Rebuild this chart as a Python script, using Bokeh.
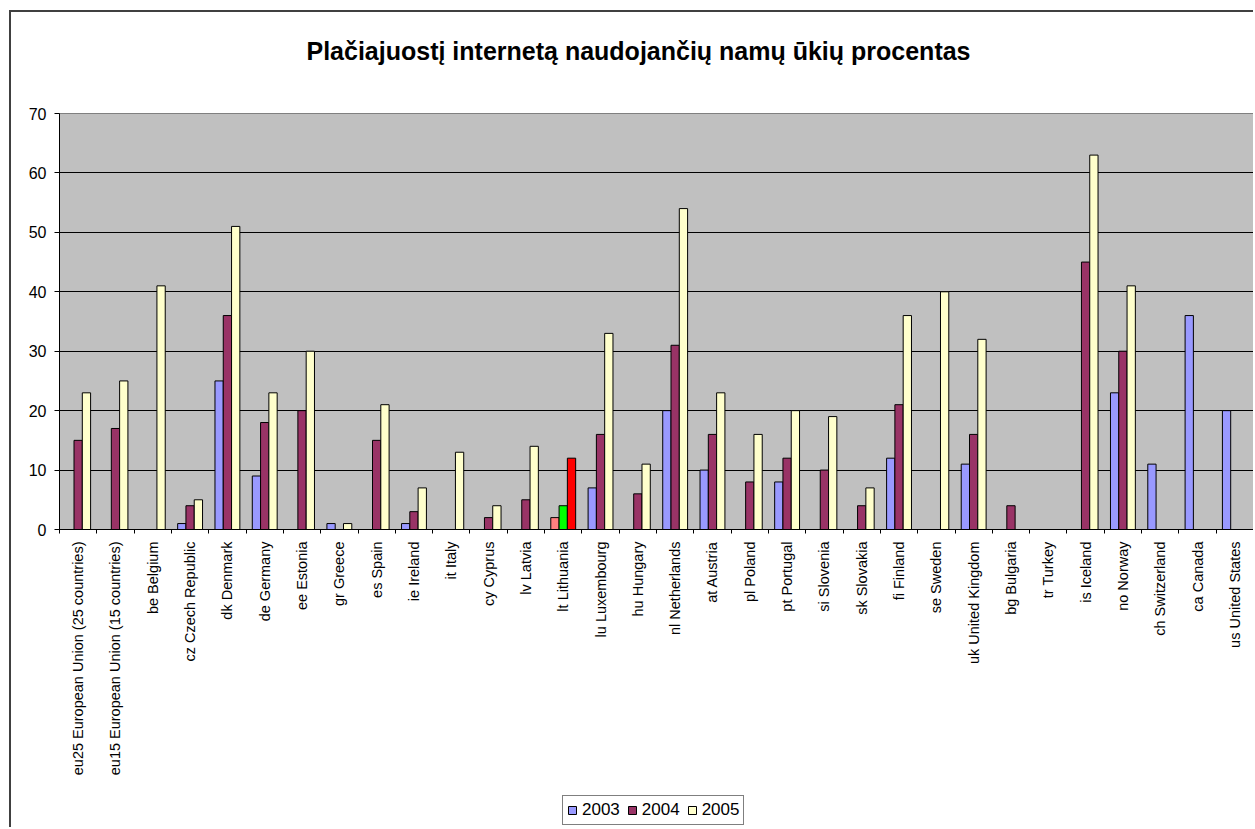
import numpy as np
from bokeh.plotting import figure
from bokeh.layouts import column
from bokeh.models import ColumnDataSource, FixedTicker, Legend, LegendItem, Label
from bokeh.transform import dodge
from bokeh.embed import file_html
from bokeh.resources import INLINE

# ---------------- data ----------------
title_text = "Plačiajuostį internetą naudojančių namų ūkių procentas"
countries = [
    "eu25 European Union (25 countries)", "eu15 European Union (15 countries)",
    "be Belgium", "cz Czech Republic", "dk Denmark", "de Germany", "ee Estonia",
    "gr Greece", "es Spain", "ie Ireland", "it Italy", "cy Cyprus", "lv Latvia",
    "lt Lithuania", "lu Luxembourg", "hu Hungary", "nl Netherlands", "at Austria",
    "pl Poland", "pt Portugal", "si Slovenia", "sk Slovakia", "fi Finland",
    "se Sweden", "uk United Kingdom", "bg Bulgaria", "tr Turkey", "is Iceland",
    "no Norway", "ch Switzerland", "ca Canada", "us United States",
]
y2003 = [None, None, None, 1, 25, 9, None, 1, None, 1, None, None, None, 2, 7, None,
         20, 10, None, 8, None, None, 12, None, 11, None, None, None, 23, 11, 36, 20]
y2004 = [15, 17, None, 4, 36, 18, 20, None, 15, 3, None, 2, 5, 4, 16, 6,
         31, 16, 8, 12, 10, 4, 21, None, 16, 4, None, 45, 30, None, None, None]
y2005 = [23, 25, 41, 5, 51, 23, 30, 1, 21, 7, 13, 4, 14, 12, 33, 11,
         54, 23, 16, 20, 19, 7, 36, 40, 32, None, None, 63, 41, None, None, None]
years = ["2003", "2004", "2005"]
y_ticks = [0, 10, 20, 30, 40, 50, 60, 70]

# ---------------- styles ----------------
FONT = "Liberation Sans"
BORDER = "2px solid #404040"
series_colors = ["#9999FF", "#993366", "#FFFFCC"]
highlight = {"lt Lithuania": ["#FF8080", "#00FF00", "#FF0000"]}
bar_w = 1.0 / 4.5  # Excel gap width 150 %
offsets = [-bar_w, 0.0, bar_w]
W = 1244
n = len(countries)
# frames of the stacked figures are aligned; strip ranges are in page pixels
FRAME_X = (59, 1253)


def strip(height, top_border=False, y0=0):
    f = figure(width=W, height=height, x_range=FRAME_X, y_range=(y0, y0 + height),
               x_axis_location=None, y_axis_location=None,
               output_backend="svg", toolbar_location=None, min_border=0)
    f.grid.grid_line_color = None
    f.outline_line_color = None
    f.background_fill_color = "white"
    f.border_fill_color = "white"
    f.title.visible = False
    if top_border:
        f.margin = (10, 0, 0, 9)
        f.styles = {"border-top": BORDER, "border-left": BORDER}
    else:
        f.margin = (0, 0, 0, 9)
        f.styles = {"border-left": BORDER}
    return f


# ---------------- title strip ----------------
tf = strip(83, top_border=True)
tf.add_layout(Label(x=638, y=45, text=title_text, text_align="center",
                    text_baseline="middle", text_font=FONT, text_font_size="25px",
                    text_font_style="bold", text_color="black"))

# ---------------- main chart ----------------
p = figure(
    width=W, height=700,
    x_range=(0, n), y_range=(0, 70),
    output_backend="svg", toolbar_location=None,
    min_border_left=48, min_border_right=2, min_border_top=20, min_border_bottom=264,
)
p.margin = (0, 0, 0, 9)
p.styles = {"border-left": BORDER}
p.title.visible = False
p.background_fill_color = "#C0C0C0"
p.border_fill_color = "white"
p.outline_line_color = "#808080"
p.outline_line_width = 1

sources = []
for k, vals in enumerate([y2003, y2004, y2005]):
    xs, tops, cols = [], [], []
    for i, v in enumerate(vals):
        if v is None:
            continue
        xs.append(i + 0.5)
        tops.append(v)
        cols.append(highlight.get(countries[i], series_colors)[k])
    src = ColumnDataSource(dict(x=xs, top=tops, color=cols))
    sources.append(src)
    p.vbar(x=dodge("x", offsets[k]), top="top", bottom=0, width=bar_w,
           source=src, fill_color="color", line_color="black", line_width=1)

p.yaxis.ticker = FixedTicker(ticks=y_ticks)
p.yaxis.axis_line_color = "black"
p.yaxis.major_tick_line_color = "black"
p.yaxis.major_tick_out = 5
p.yaxis.major_tick_in = 0
p.yaxis.minor_tick_line_color = None
p.yaxis.major_label_text_font = FONT
p.yaxis.major_label_text_font_size = "16px"
p.yaxis.major_label_text_color = "black"
p.yaxis.major_label_standoff = 8

centres = [i + 0.5 for i in range(n)]
p.xaxis.ticker = FixedTicker(ticks=centres, minor_ticks=list(range(n + 1)))
p.xaxis.major_label_overrides = {c: name for c, name in zip(centres, countries)}
p.xaxis.major_label_orientation = np.pi / 2
p.xaxis.major_tick_out = 0
p.xaxis.major_tick_in = 0
p.xaxis.minor_tick_out = 4
p.xaxis.minor_tick_in = 0
p.xaxis.minor_tick_line_color = "black"
p.xaxis.axis_line_color = "black"
p.xaxis.major_label_text_font = FONT
p.xaxis.major_label_text_font_size = "14.5px"
p.xaxis.major_label_text_color = "black"
p.xaxis.major_label_standoff = 8

p.xgrid.grid_line_color = None
p.ygrid.ticker = FixedTicker(ticks=y_ticks)
p.ygrid.grid_line_color = "black"
p.ygrid.grid_line_width = 1

# ---------------- legend strip ----------------
# y range placed far above the data so the swatch renderers stay out of view
lf = strip(34, y0=5000)
swatches = []
for k, yr in enumerate(years):
    r = lf.vbar(x=dodge("x", 5000), top="top", bottom="top", width=bar_w,
                source=sources[k], fill_color=series_colors[k],
                line_color="black", line_width=1)
    swatches.append(LegendItem(label=yr, renderers=[r]))
legend = Legend(
    items=swatches, orientation="horizontal", location=(503, 2),
    label_text_font=FONT, label_text_font_size="17px", label_text_color="black",
    glyph_width=10, glyph_height=10, label_standoff=5, spacing=7,
    padding=4, margin=0, label_height=17,
    border_line_color="black", border_line_width=1,
    background_fill_color="white", background_fill_alpha=1.0,
)
lf.add_layout(legend, "center")

layout = column(tf, p, lf, spacing=0)
open("out.html", "w").write(file_html(layout, INLINE))
